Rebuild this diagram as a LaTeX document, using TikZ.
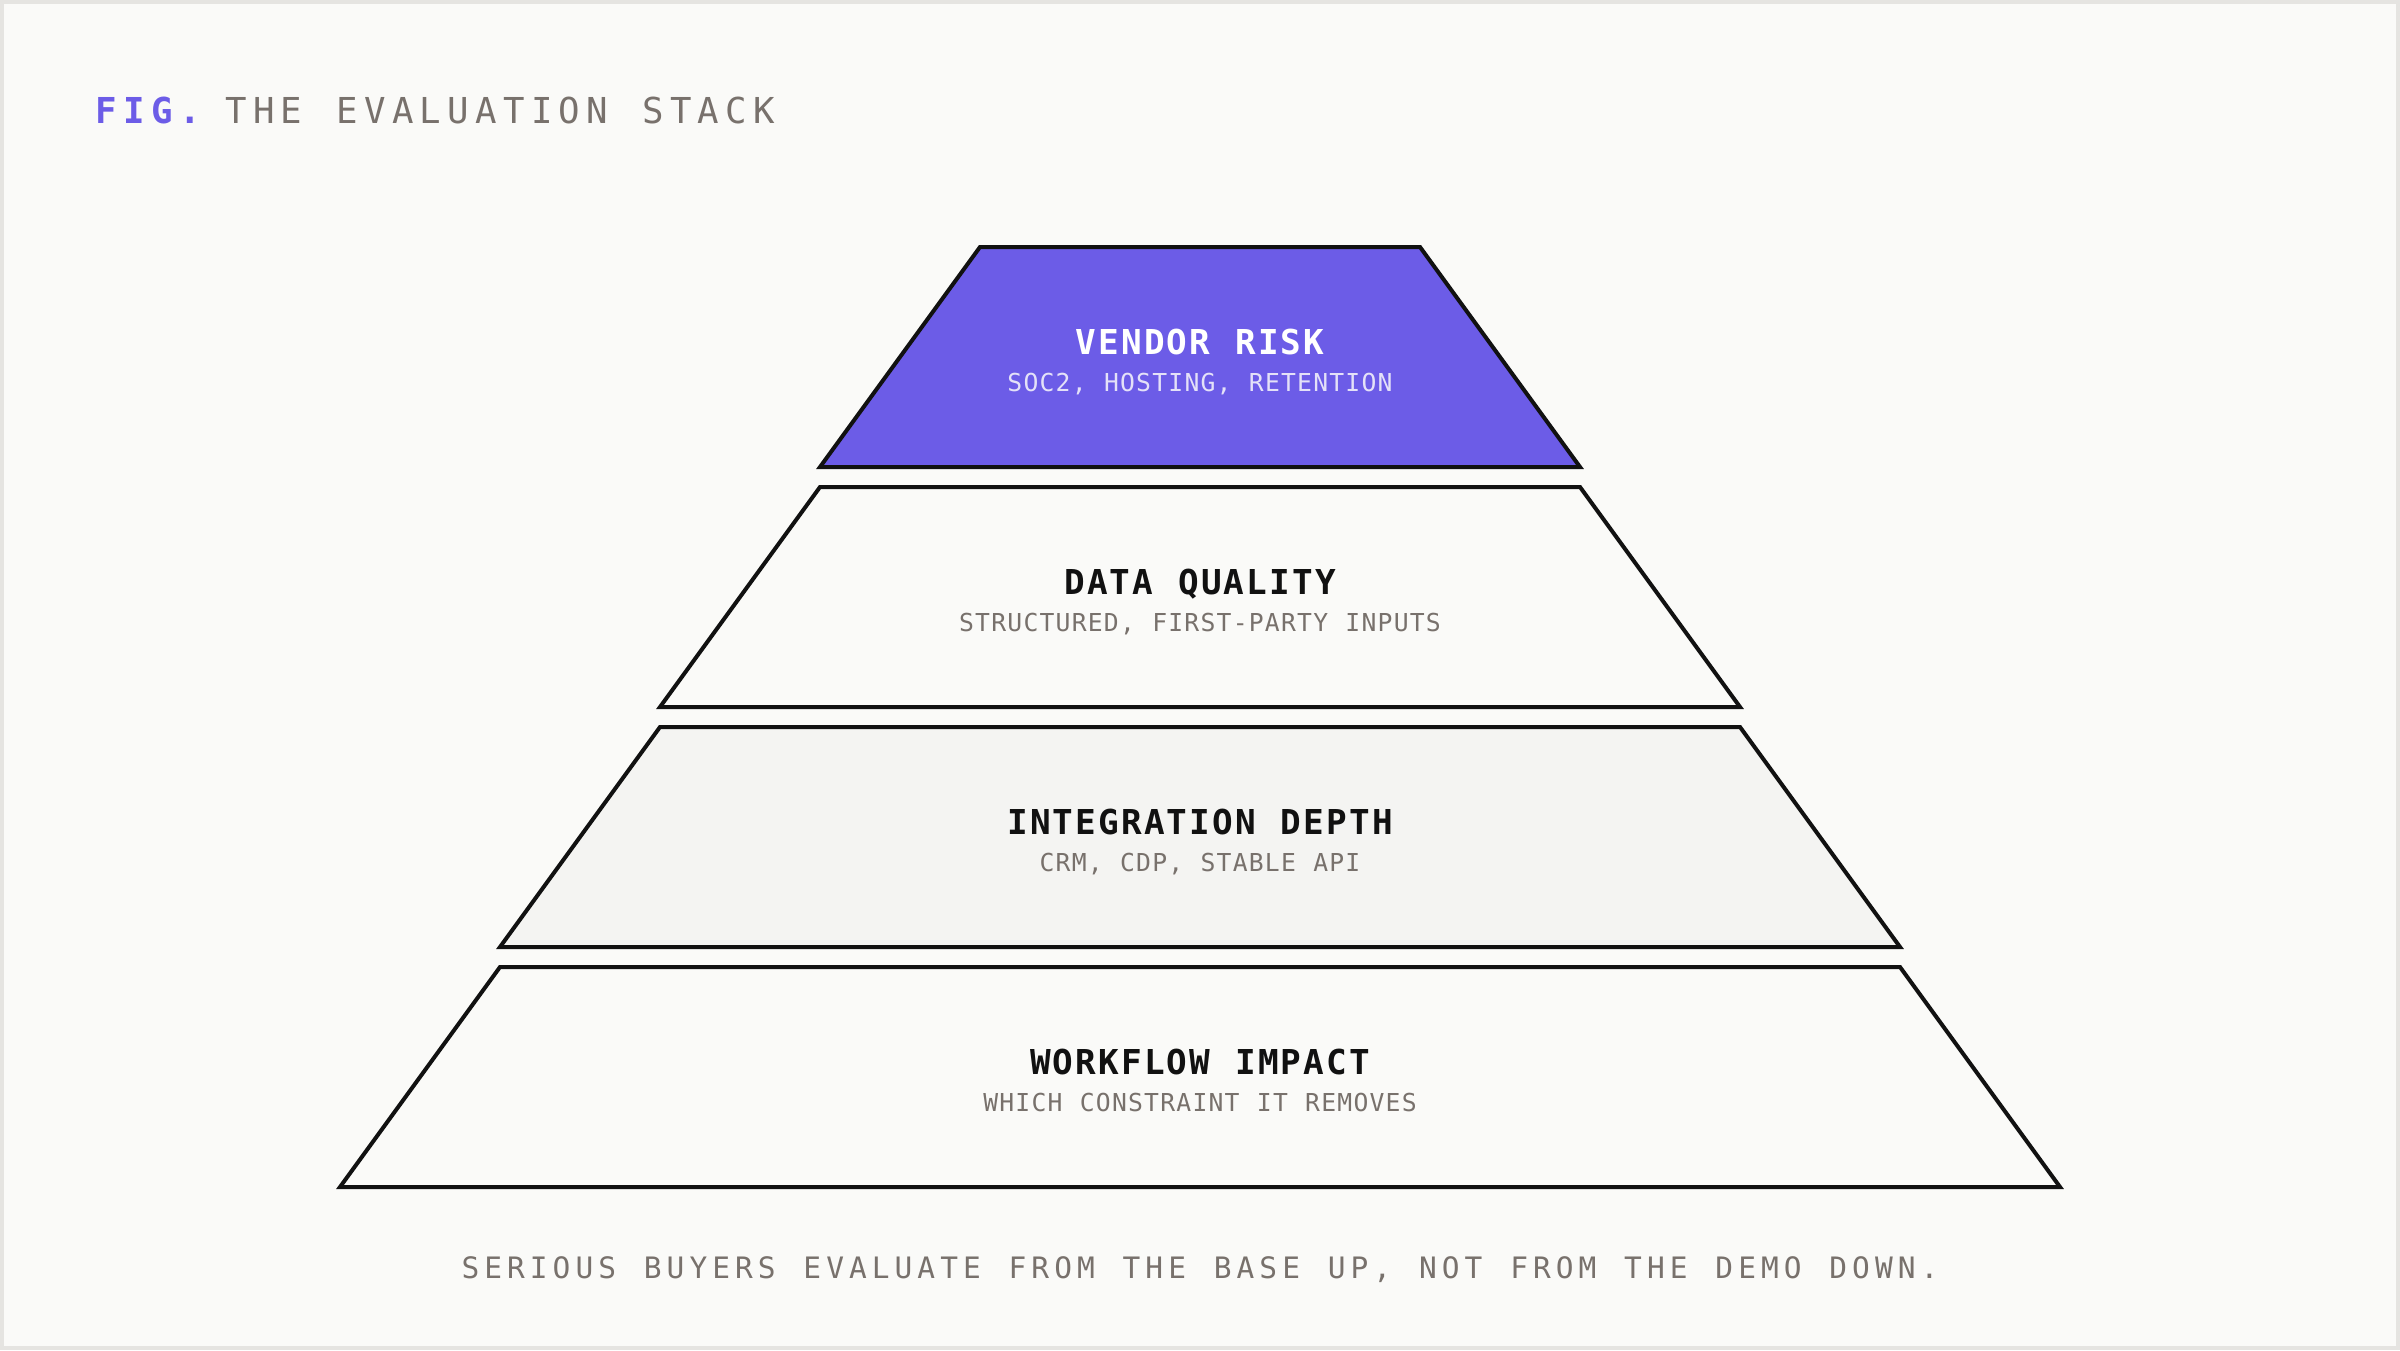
\documentclass[tikz,border=0pt]{standalone}
\usepackage{fontspec}
\setmainfont{DejaVu Sans Mono}
\newfontfamily\mono{DejaVu Sans Mono}
\definecolor{bgc}{HTML}{FAFAF8}
\definecolor{framec}{HTML}{E5E4E1}
\definecolor{purp}{HTML}{6C5CE7}
\definecolor{graytxt}{HTML}{78716C}
\definecolor{subpurp}{HTML}{E4E1F8}
\definecolor{ink}{HTML}{111111}
\definecolor{lightfill}{HTML}{F4F4F2}
\ExplSyntaxOn
\NewDocumentCommand\spaced{mm}{\str_map_inline:nn{#2}{\hbox_to_wd:nn{#1}{\hfil##1\hfil}}}
\ExplSyntaxOff
\tikzset{
  edge/.style={draw=ink, line width=4pt, line join=miter},
  ltitle/.style={anchor=base, inner sep=0pt, font={\mono\bfseries\fontsize{34.3}{40}\selectfont}},
  lsub/.style={anchor=base, inner sep=0pt, text=graytxt, font={\mono\fontsize{24.7}{30}\selectfont}},
  captxt/.style={anchor=base, inner sep=0pt, text=graytxt, font={\mono\fontsize{29.5}{34}\selectfont}},
  headtxt/.style={anchor=base west, inner sep=0pt, font={\mono\fontsize{35.7}{42}\selectfont}}
}
\begin{document}
\begin{tikzpicture}[x=1pt,y=-1pt]
\useasboundingbox (0,0) rectangle (2400,1350);
\fill[bgc] (0,0) rectangle (2400,1350);
\draw[framec, line width=4pt] (2,2) rectangle (2398,1348);

% heading
\node[headtxt, text=purp, font={\mono\bfseries\fontsize{35.7}{42}\selectfont}] (fig) at (92,123) {\spaced{27.9pt}{FIG.}};
\node[headtxt, text=graytxt] (head) at (222,123) {\spaced{27.8pt}{THE EVALUATION STACK}};

% layers
\filldraw[edge, fill=purp] (980,247) -- (1420,247) -- (1580,467) -- (820,467) -- cycle;
\filldraw[edge, fill=bgc] (820,487) -- (1580,487) -- (1740,707) -- (660,707) -- cycle;
\filldraw[edge, fill=lightfill] (660,727) -- (1740,727) -- (1900,947) -- (500,947) -- cycle;
\filldraw[edge, fill=bgc] (500,967) -- (1900,967) -- (2060,1187) -- (340,1187) -- cycle;

\node[ltitle, text=white] (t1) at (1200,354) {\spaced{22.8pt}{VENDOR RISK}};
\node[lsub, text=subpurp] (s1) at (1200,391) {\spaced{16.1pt}{SOC2, HOSTING, RETENTION}};

\node[ltitle, text=ink] (t2) at (1200,594) {\spaced{22.8pt}{DATA QUALITY}};
\node[lsub] (s2) at (1200,631) {\spaced{16.1pt}{STRUCTURED, FIRST-PARTY INPUTS}};

\node[ltitle, text=ink] (t3) at (1200,834) {\spaced{22.8pt}{INTEGRATION DEPTH}};
\node[lsub] (s3) at (1200,871) {\spaced{16.1pt}{CRM, CDP, STABLE API}};

\node[ltitle, text=ink] (t4) at (1200,1074) {\spaced{22.8pt}{WORKFLOW IMPACT}};
\node[lsub] (s4) at (1200,1111) {\spaced{16.1pt}{WHICH CONSTRAINT IT REMOVES}};

% caption
\node[captxt] (cap) at (1200,1278) {\spaced{22.8pt}{SERIOUS BUYERS EVALUATE FROM THE BASE UP, NOT FROM THE DEMO DOWN.}};
\end{tikzpicture}
\end{document}
